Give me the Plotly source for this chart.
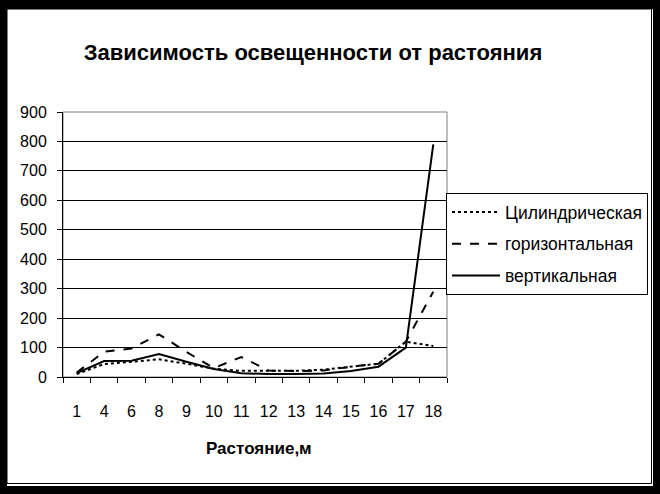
import plotly.graph_objects as go

categories = ['1', '4', '6', '8', '9', '10', '11', '12', '13', '14', '15', '16', '17', '18']
cylindrical = [10, 44, 52, 60, 45, 28, 21, 20, 21, 25, 34, 45, 120, 105]
horizontal = [15, 86, 97, 145, 85, 30, 68, 22, 20, 22, 35, 45, 120, 290]
vertical = [13, 54, 55, 78, 52, 27, 13, 10, 10, 12, 20, 35, 100, 790]
y_ticks = [0, 100, 200, 300, 400, 500, 600, 700, 800, 900]

W, H = 660, 494
L, R, T, B = 63, 213, 112, 117
PW, PH = W - L - R, H - T - B

def px(x):
    return (x - L) / PW

def py(y):
    return (H - B - y) / PH

FONT = "Liberation Sans, Arial, sans-serif"

fig = go.Figure()
fig.add_trace(go.Scatter(x=categories, y=cylindrical, name="Цилиндрическая", mode="lines",
                         line=dict(color="black", width=2, dash="dot"), legendgroup="a"))
fig.add_trace(go.Scatter(x=categories, y=horizontal, name="горизонтальная", mode="lines",
                         line=dict(color="black", width=2, dash="dash"), legendgroup="b"))
fig.add_trace(go.Scatter(x=categories, y=vertical, name="вертикальная", mode="lines",
                         line=dict(color="black", width=2), legendgroup="c"))

shapes = [
    # frame
    dict(type="rect", xref="paper", yref="paper", x0=px(7), x1=px(653), y0=py(486), y1=py(9),
         fillcolor="white", line=dict(width=0), layer="below"),
    dict(type="rect", xref="paper", yref="paper", x0=px(7), x1=px(651.5), y0=py(483.5), y1=py(9),
         fillcolor="white", line=dict(color="black", width=1), layer="below"),
    # plot area border (gray)
    dict(type="rect", xref="paper", yref="paper", x0=0, x1=1, y0=0, y1=1,
         line=dict(color="#808080", width=1), layer="below"),
]

fig.update_layout(
    width=W, height=H,
    margin=dict(l=L, r=R, t=T, b=B, autoexpand=False),
    paper_bgcolor="black",
    plot_bgcolor="white",
    font=dict(family=FONT, color="black", size=16),
    title=dict(text="<b>Зависимость освещенности от растояния</b>",
               font=dict(family=FONT, size=22, color="black"),
               x=px(313), xref="paper", xanchor="center",
               y=1 - 52 / H, yref="container", yanchor="middle"),
    xaxis=dict(type="category", categoryorder="array", categoryarray=categories,
               showline=True, linecolor="black", linewidth=1,
               ticks="outside", ticklen=5, tickcolor="black", tickson="boundaries",
               showgrid=False, ticklabelstandoff=20,
               tickfont=dict(family=FONT, size=16, color="black"),
               range=[-0.5, len(categories) - 0.5], fixedrange=True),
    yaxis=dict(range=[0, 900], tickvals=y_ticks, showline=True, linecolor="black", linewidth=1,
               ticks="outside", ticklen=5, tickcolor="black",
               showgrid=True, gridcolor="black", gridwidth=1, zeroline=False,
               ticklabelstandoff=7,
               tickfont=dict(family=FONT, size=16, color="black")),
    legend=dict(x=px(446), y=py(193), xanchor="left", yanchor="top",
                bgcolor="white", bordercolor="black", borderwidth=1,
                font=dict(family=FONT, size=17.5, color="black"),
                traceorder="grouped", tracegroupgap=6, itemwidth=48),
    shapes=shapes,
    annotations=[dict(text="<b>Растояние,м</b>", xref="paper", yref="paper",
                      x=px(259), y=py(448), xanchor="center", yanchor="middle",
                      showarrow=False, font=dict(family=FONT, size=17, color="black"))],
    showlegend=True,
)

fig.write_html("out.html", config={"displayModeBar": False},
               post_script="document.body.style.margin='0';document.body.style.overflow='hidden';")
